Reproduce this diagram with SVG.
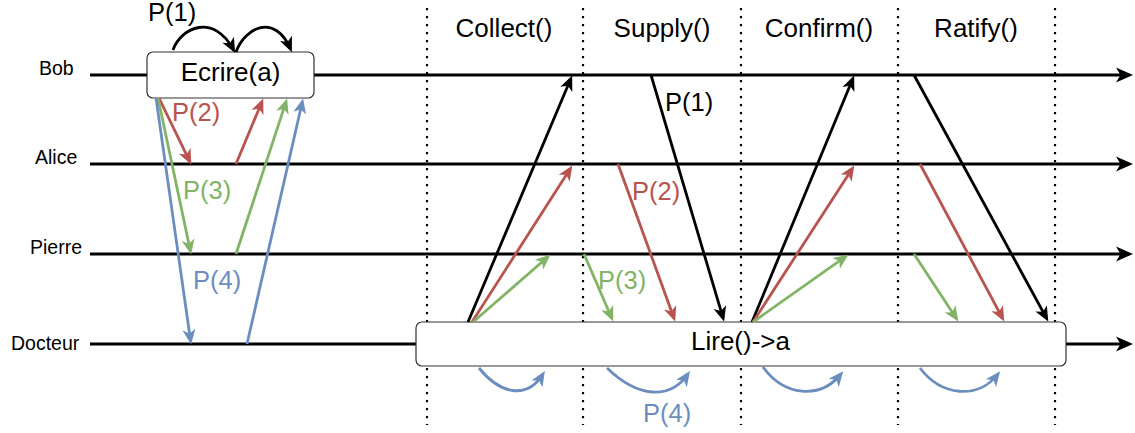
<svg xmlns="http://www.w3.org/2000/svg" width="1135" height="433" viewBox="0 0 1135 433">
  <style>
    text { font-family: "Liberation Sans", Arial, Helvetica, sans-serif; fill: #000; }
    .name { font-size: 19.5px; }
    .big { font-size: 26px; }
    .lbl { font-size: 25.5px; }
    .life { stroke: #000; stroke-width: 3; fill: none; }
    .dot { stroke: #000; stroke-width: 2.2; stroke-dasharray: 2.2 5.8; fill: none; }
    .box { fill: #fff; stroke: #333; stroke-width: 1.2; }
    .k { stroke: #000; stroke-width: 2.8; fill: none; marker-end: url(#ak); }
    .r { stroke: #b85450; stroke-width: 2.8; fill: none; marker-end: url(#ar); }
    .g { stroke: #82b366; stroke-width: 2.8; fill: none; marker-end: url(#ag); }
    .b { stroke: #6c8ebf; stroke-width: 2.8; fill: none; marker-end: url(#ab); }
    .tr { fill: #b85450; }
    .tg { fill: #82b366; }
    .tb { fill: #6c8ebf; }
  </style>
  <defs>
    <marker id="ak" markerUnits="userSpaceOnUse" markerWidth="15" markerHeight="13" refX="11.5" refY="6.5" orient="auto" overflow="visible">
      <path d="M0,0 L15,6.5 L0,13 L4,6.5 Z" fill="#000"/>
    </marker>
    <marker id="ar" markerUnits="userSpaceOnUse" markerWidth="15" markerHeight="13" refX="11.5" refY="6.5" orient="auto" overflow="visible">
      <path d="M0,0 L15,6.5 L0,13 L4,6.5 Z" fill="#b85450"/>
    </marker>
    <marker id="ag" markerUnits="userSpaceOnUse" markerWidth="15" markerHeight="13" refX="11.5" refY="6.5" orient="auto" overflow="visible">
      <path d="M0,0 L15,6.5 L0,13 L4,6.5 Z" fill="#82b366"/>
    </marker>
    <marker id="ab" markerUnits="userSpaceOnUse" markerWidth="15" markerHeight="13" refX="11.5" refY="6.5" orient="auto" overflow="visible">
      <path d="M0,0 L15,6.5 L0,13 L4,6.5 Z" fill="#6c8ebf"/>
    </marker>
    <marker id="al" markerUnits="userSpaceOnUse" markerWidth="17" markerHeight="15" refX="13" refY="7.5" orient="auto" overflow="visible">
      <path d="M0,0 L17,7.5 L0,15 L4.5,7.5 Z" fill="#000"/>
    </marker>
  </defs>

  <g id="phase-separators">
    <line class="dot" x1="427" y1="8" x2="427" y2="425"/>
    <line class="dot" x1="583" y1="8" x2="583" y2="425"/>
    <line class="dot" x1="741" y1="8" x2="741" y2="425"/>
    <line class="dot" x1="898" y1="8" x2="898" y2="425"/>
    <line class="dot" x1="1055" y1="8" x2="1055" y2="425"/>
  </g>

  <g id="phase-labels">
    <text class="big" x="504" y="37" text-anchor="middle">Collect()</text>
    <text class="big" x="662" y="37" text-anchor="middle">Supply()</text>
    <text class="big" x="819" y="37" text-anchor="middle">Confirm()</text>
    <text class="big" x="976" y="37" text-anchor="middle">Ratify()</text>
  </g>

  <g id="lifelines">
    <line class="life" x1="90" y1="75" x2="1129" y2="75" marker-end="url(#al)"/>
    <line class="life" x1="90" y1="164" x2="1129" y2="164" marker-end="url(#al)"/>
    <line class="life" x1="90" y1="254" x2="1129" y2="254" marker-end="url(#al)"/>
    <line class="life" x1="90" y1="344" x2="1129" y2="344" marker-end="url(#al)"/>
  </g>

  <g id="bob"><text class="name" x="39" y="75">Bob</text></g>
  <g id="alice"><text class="name" x="35" y="164">Alice</text></g>
  <g id="pierre"><text class="name" x="30" y="254">Pierre</text></g>
  <g id="docteur"><text class="name" x="11" y="350">Docteur</text></g>

  <g id="ecrire">
    <rect class="box" x="147" y="52" width="167" height="46" rx="6" ry="6"/>
    <text class="big" x="230.5" y="81" text-anchor="middle">Ecrire(a)</text>
  </g>

  <g id="lire">
    <rect class="box" x="416" y="322" width="650" height="44" rx="6" ry="6"/>
    <text class="big" x="740.5" y="350" text-anchor="middle">Lire()-&gt;a</text>
  </g>

  <g id="connectors">
    <!-- Ecrire(a) phase -->
    <path class="k" d="M173,50 C181,27 214,13 233.5,50"/>
    <path class="k" d="M236,52 C245,27 275,13 290.5,49"/>
    <line class="r" x1="159" y1="98" x2="189.7" y2="161.3"/>
    <line class="r" x1="236" y1="164" x2="261.9" y2="101.8"/>
    <line class="g" x1="158" y1="98" x2="190.4" y2="251"/>
    <line class="g" x1="236" y1="254" x2="286" y2="101.9"/>
    <line class="b" x1="156" y1="98" x2="190.6" y2="341"/>
    <line class="b" x1="247" y1="344" x2="302.3" y2="101.9"/>
    <!-- Collect -->
    <line class="k" x1="468" y1="322" x2="570.8" y2="78.8"/>
    <line class="r" x1="472" y1="322" x2="570.4" y2="168.5"/>
    <line class="g" x1="473" y1="322" x2="547.7" y2="257"/>
    <!-- Supply -->
    <line class="k" x1="651" y1="75" x2="723.1" y2="318.1"/>
    <line class="r" x1="618" y1="164" x2="674" y2="318.2"/>
    <line class="g" x1="584" y1="254" x2="611.8" y2="318.2"/>
    <!-- Confirm -->
    <line class="k" x1="752" y1="322" x2="852.8" y2="78.8"/>
    <line class="r" x1="753" y1="322" x2="852.4" y2="168.5"/>
    <line class="g" x1="753" y1="322" x2="845.5" y2="256.7"/>
    <!-- Ratify -->
    <line class="k" x1="914" y1="75" x2="1046.6" y2="318.4"/>
    <line class="r" x1="920" y1="164" x2="1002.6" y2="318.4"/>
    <line class="g" x1="914" y1="254" x2="956.4" y2="318.5"/>
    <!-- P(4) self-loops -->
    <path class="b" d="M479,368 C500,394 527,400 543,374"/>
    <path class="b" d="M607,368 C638,398 670,400 688,374"/>
    <path class="b" d="M763,367 C784,396 820,400 841,374"/>
    <path class="b" d="M920,368 C941,396 978,400 998,374"/>
  </g>

  <g id="connector-labels">
    <text class="lbl" x="148" y="21">P(1)</text>
    <text class="lbl tr" x="172" y="121">P(2)</text>
    <text class="lbl tg" x="183" y="199">P(3)</text>
    <text class="lbl tb" x="193" y="289">P(4)</text>
    <text class="lbl" x="665" y="111">P(1)</text>
    <text class="lbl tr" x="632" y="200">P(2)</text>
    <text class="lbl tg" x="598" y="289">P(3)</text>
    <text class="lbl tb" x="643" y="422">P(4)</text>
  </g>
</svg>
